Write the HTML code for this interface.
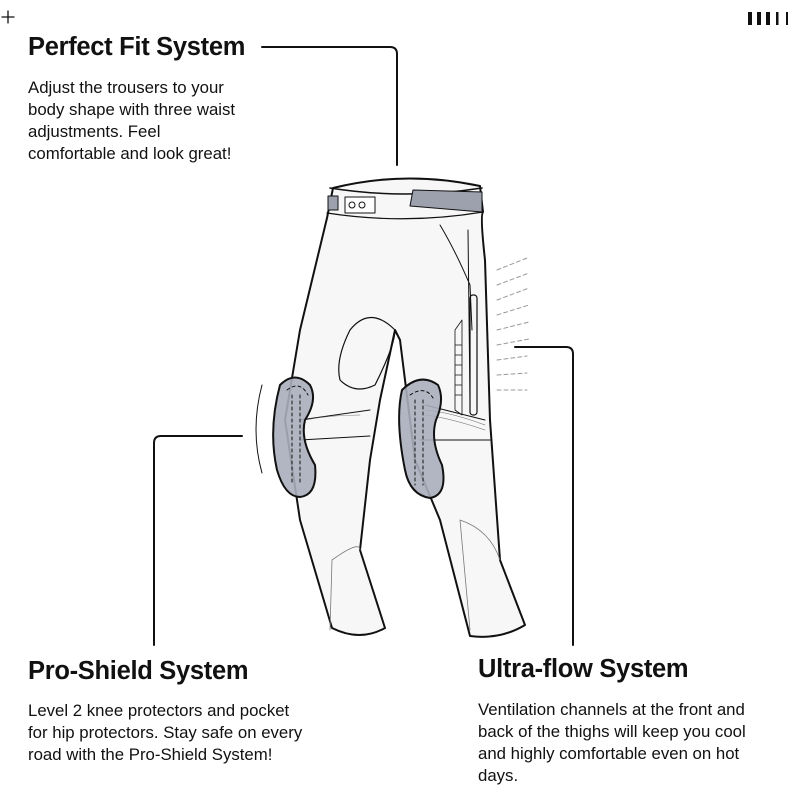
<!DOCTYPE html>
<html><head><meta charset="utf-8"><style>
body{margin:0;background:#fff;}
.w{position:relative;width:800px;height:800px;overflow:hidden;font-family:"Liberation Sans",sans-serif;color:#111;}
.t{position:absolute;font-weight:bold;font-size:25.5px;letter-spacing:-0.3px;white-space:nowrap;}
.p{position:absolute;font-size:16.8px;line-height:22px;white-space:nowrap;}
svg{position:absolute;left:0;top:0;}
</style></head><body><div class="w">
<svg width="800" height="800" viewBox="0 0 800 800" fill="none" stroke="#111" stroke-linecap="round" stroke-linejoin="round">
<path d="M2 17h12M8 11v12" stroke-width="1.3"/>
<rect x="748" y="12" width="4" height="13" fill="#111" stroke="none"/>
<rect x="757" y="12" width="4" height="13" fill="#111" stroke="none"/>
<rect x="766" y="12" width="4" height="13" fill="#111" stroke="none"/>
<rect x="776" y="12" width="2.5" height="13" fill="#111" stroke="none"/>
<rect x="786" y="12" width="2" height="13" fill="#111" stroke="none"/>
<path d="M262 47H390q7 0 7 7V165" stroke-width="2"/>
<path d="M242 436H161q-7 0-7 7V645" stroke-width="2"/>
<path d="M515 347H566q7 0 7 7V645" stroke-width="2"/>
<g stroke-width="2" fill="#f7f7f7">
<path d="M333 188 Q405 170 480 186 L483 212 Q480 215 485 260 L490 420 L500 560 L525 625 Q500 640 470 636 L440 520 L415 460 L400 340 L395 330 L380 400 L370 460 L360 550 L385 628 Q360 642 332 628 L300 520 L285 420 L300 330 L327 218 Z"/>
</g>
<path d="M330 188 Q405 200 482 188" stroke-width="1.5"/>
<path d="M327 213 Q405 225 483 212" stroke-width="1.2"/>
<path d="M413 190 L482 192 L482 212 L410 206 Z" fill="#9ca1ad" stroke-width="1"/>
<rect x="328" y="196" width="10" height="14" fill="#9ca1ad" stroke-width="1"/>
<rect x="345" y="197" width="30" height="16" fill="#fff" stroke-width="1"/>
<circle cx="352" cy="205" r="3" stroke-width="1"/><circle cx="362" cy="205" r="3" stroke-width="1"/>
<path d="M395 330 Q370 305 350 330 Q335 360 340 380 Q355 395 375 385 Q395 345 395 330Z" stroke-width="1.2"/>
<path d="M440 225 Q455 250 470 285 L472 330 M468 230 L470 400" stroke-width="1"/>
<rect x="470" y="295" width="7" height="120" rx="3" stroke-width="1.2"/>
<path d="M455 330 L462 320 L462 415 L455 410Z M455 345h7M455 355h7M455 365h7M455 375h7M455 385h7M455 395h7" stroke-width="0.8"/>
<path d="M300 420 L370 410 M425 405 L485 420 M300 440 L370 436 M420 440 L490 440" stroke-width="1"/>
<path d="M305 420 Q330 415 360 415 M425 410 Q450 412 485 425 M425 415 Q450 418 485 430" stroke-width="0.6" stroke="#666"/>
<path d="M330 630 L332 560 Q360 540 360 550 M470 630 L460 520 Q490 530 500 560" stroke-width="0.8" stroke="#777"/>
<path d="M280 385 Q295 370 310 385 Q318 400 305 420 Q300 440 315 465 Q318 495 300 497 Q285 497 277 470 Q268 430 280 385Z" fill="#a9aebb" stroke-width="2" fill-opacity="0.9"/>
<path d="M402 390 Q420 372 438 385 Q445 400 436 420 Q430 440 442 465 Q448 495 430 498 Q410 495 405 470 Q395 420 402 390Z" fill="#a9aebb" stroke-width="2" fill-opacity="0.9"/>
<path d="M287 390 Q300 380 308 395 M292 395v90 M300 395v90 M410 395 Q425 385 433 398 M415 400v85 M423 400v85" stroke-width="1" stroke-dasharray="3 3"/>
<path d="M262 385 Q250 430 262 473" stroke-width="1"/>
<g stroke="#999" stroke-width="1" stroke-dasharray="4 3">
<path d="M497 270l30-12M497 285l32-12M497 300l32-12M497 315l32-10M497 330l32-8M497 345l32-6M497 360l30-4M497 375l30-2M497 390l30 0"/>
</g>
</svg>
<div class="t" style="left:28px;top:33px;">Perfect Fit System</div>
<div class="p" style="left:28px;top:77px;">Adjust the trousers to your<br>body shape with three waist<br>adjustments. Feel<br>comfortable and look great!</div>
<div class="t" style="left:28px;top:657px;">Pro-Shield System</div>
<div class="p" style="left:28px;top:700px;">Level 2 knee protectors and pocket<br>for hip protectors. Stay safe on every<br>road with the Pro-Shield System!</div>
<div class="t" style="left:478px;top:655px;">Ultra-flow System</div>
<div class="p" style="left:478px;top:699px;">Ventilation channels at the front and<br>back of the thighs will keep you cool<br>and highly comfortable even on hot<br>days.</div>
</div></body></html>
